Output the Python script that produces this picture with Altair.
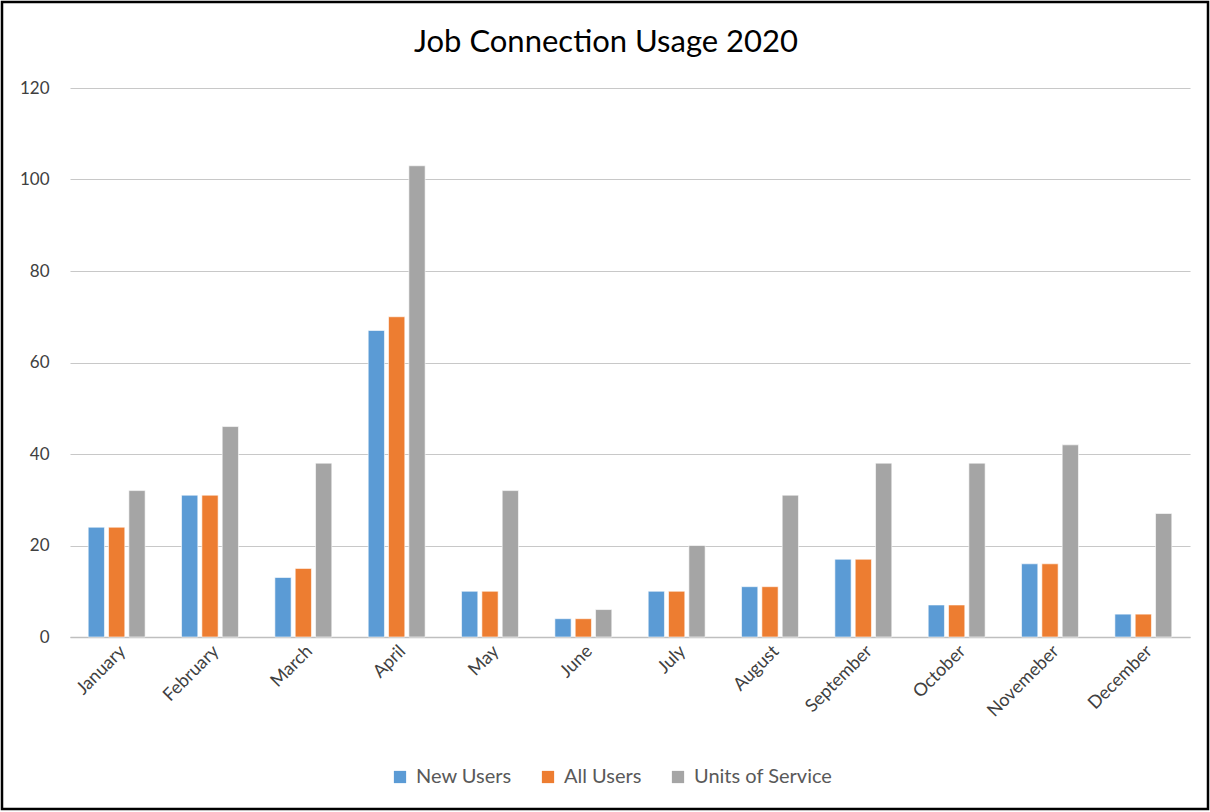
import altair as alt
import pandas as pd

months = ["January", "February", "March", "April", "May", "June", "July",
          "August", "September", "October", "Novemeber", "December"]
series = ["New Users", "All Users", "Units of  Service"]
new_users = [24, 31, 13, 67, 10, 4, 10, 11, 17, 7, 16, 5]
all_users = [24, 31, 15, 70, 10, 4, 10, 11, 17, 7, 16, 5]
units_service = [32, 46, 38, 103, 32, 6, 20, 31, 38, 38, 42, 27]
colors = ["#5B9BD5", "#ED7D31", "#A5A5A5"]
title_text = "Job Connection Usage 2020"

rows = []
for s, vals in zip(series, [new_users, all_users, units_service]):
    for m, v in zip(months, vals):
        rows.append({"Month": m, "Series": s, "Value": v})
df = pd.DataFrame(rows)

FONT = "Lato"
W, H = 1120, 549

bars = alt.Chart(df).mark_bar(stroke="white", strokeWidth=0.6).encode(
    x=alt.X("Month:N", sort=months, title=None,
            scale=alt.Scale(paddingInner=0.39, paddingOuter=0.195),
            axis=alt.Axis(labelAngle=-45, labelFontSize=18, labelColor="#404040",
                          labelFont=FONT, ticks=False, domain=True,
                          domainColor="#BFBFBF", domainWidth=1.5,
                          labelPadding=5, grid=False)),
    xOffset=alt.XOffset("Series:N", sort=series,
                        scale=alt.Scale(paddingInner=0.2, paddingOuter=0)),
    y=alt.Y("Value:Q", title=None,
            scale=alt.Scale(domain=[0, 120], nice=False),
            axis=alt.Axis(values=[0, 20, 40, 60, 80, 100, 120], labelFontSize=17,
                          labelColor="#404040", labelFont=FONT, ticks=False,
                          domain=False, gridColor="#C8C8C8", gridWidth=1.2,
                          labelPadding=21)),
    color=alt.Color("Series:N", sort=series,
                    scale=alt.Scale(domain=series, range=colors),
                    legend=alt.Legend(title=None, orient="none", direction="horizontal",
                                      legendX=320, legendY=679, symbolType="square",
                                      symbolSize=150, symbolStrokeWidth=0,
                                      labelFontSize=20, labelFont=FONT,
                                      labelColor="#595959", columnPadding=26,
                                      labelOffset=6)),
)

one = pd.DataFrame({"a": [0]})

frame = alt.Chart(one).mark_rect(
    fill=None, stroke="black", strokeWidth=2.5
).encode(
    x=alt.value(-68), x2=alt.value(W + 18),
    y=alt.value(-86), y2=alt.value(H + 172),
)

title = alt.Chart(one).mark_text(
    font=FONT, fontSize=31, color="#000000", align="center", baseline="alphabetic"
).encode(
    x=alt.value(536), y=alt.value(-36), text=alt.value(title_text),
)

chart = alt.layer(bars, frame, title).properties(
    width=W, height=H,
    autosize=alt.AutoSizeParams(type="none"),
    padding={"left": 70, "top": 88, "right": 20, "bottom": 175},
    background="white",
).configure_view(stroke=None)

chart.save("out.html", embed_options={"renderer": "svg", "actions": False})
